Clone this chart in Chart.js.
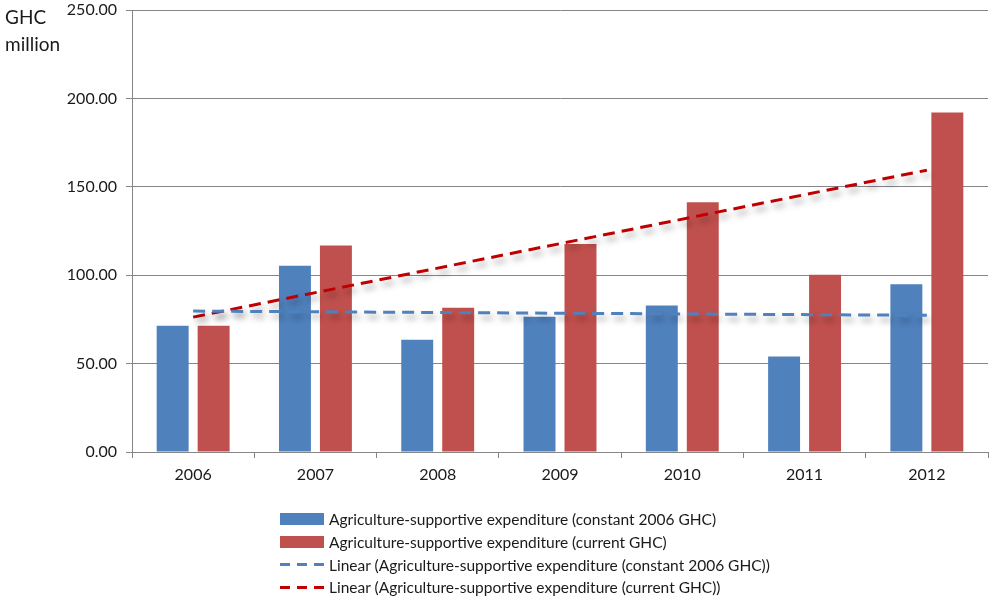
<!DOCTYPE html>
<html>
<head>
<meta charset="utf-8">
<script src="https://cdn.jsdelivr.net/npm/chart.js@4/dist/chart.umd.min.js"></script>
<style>
  html, body { margin: 0; padding: 0; background: #fff; }
  #wrap { position: relative; width: 990px; height: 600px; font-family: Lato, "Open Sans", sans-serif; color: #1a1a1a; }
  #c { position: absolute; left: 0; top: 0; }
  #ytitle { position: absolute; left: 5px; top: 3px; font-size: 19px; line-height: 27px; }
  #legend { position: absolute; left: 280px; top: 508px; font-size: 15.5px; }
  .row { height: 22.7px; display: flex; align-items: center; white-space: nowrap; }
  .sw { width: 44px; height: 12px; margin-right: 5px; flex: none; }
  .dash { width: 44px; height: 3px; margin-right: 5px; flex: none; }
</style>
</head>
<body>
<div id="wrap">
  <canvas id="c" width="990" height="600"></canvas>
  <div id="ytitle">GHC<br>million</div>
  <div id="legend"></div>
</div>
<script>
const categories = ["2006", "2007", "2008", "2009", "2010", "2011", "2012"];
const constantGHC = [71.4, 105.4, 63.5, 76.5, 82.8, 54.0, 94.9];
const currentGHC = [71.4, 116.8, 81.6, 117.7, 141.2, 100.2, 192.0];
// trend line endpoints (2006 and 2012)
const trendConstant = [79.7, null, null, null, null, null, 77.3];
const trendCurrent = [76.3, null, null, null, null, null, 159.4];
const seriesNames = [
  "Agriculture-supportive expenditure (constant 2006 GHC)",
  "Agriculture-supportive expenditure (current GHC)",
  "Linear (Agriculture-supportive expenditure (constant 2006 GHC))",
  "Linear (Agriculture-supportive expenditure (current GHC))"
];
const yTicks = [0, 50, 100, 150, 200, 250];

const BLUE = "#4F81BD", RED = "#C0504D", TREND_RED = "#C00000";

const shadowPlugin = {
  id: "trendShadow",
  beforeDatasetDraw(chart, args) {
    if (args.meta.type === "line") {
      const ctx = chart.ctx;
      ctx.save();
      ctx.shadowColor = "rgba(0,0,0,0.35)";
      ctx.shadowBlur = 6;
      ctx.shadowOffsetX = 3;
      ctx.shadowOffsetY = 5;
    }
  },
  afterDatasetDraw(chart, args) {
    if (args.meta.type === "line") chart.ctx.restore();
  }
};

const font = { family: "Lato, 'Open Sans', sans-serif", size: 16 };

new Chart(document.getElementById("c"), {
  type: "bar",
  data: {
    labels: categories,
    datasets: [
      { label: seriesNames[0], data: constantGHC, backgroundColor: BLUE, order: 1,
        categoryPercentage: 0.67, barPercentage: 0.78 },
      { label: seriesNames[1], data: currentGHC, backgroundColor: RED, order: 1,
        categoryPercentage: 0.67, barPercentage: 0.78 },
      { type: "line", label: seriesNames[2], data: trendConstant, borderColor: BLUE,
        borderWidth: 3, borderDash: [12, 7], pointRadius: 0, spanGaps: true, fill: false, order: 0 },
      { type: "line", label: seriesNames[3], data: trendCurrent, borderColor: TREND_RED,
        borderWidth: 3, borderDash: [12, 7], pointRadius: 0, spanGaps: true, fill: false, order: 0 }
    ]
  },
  options: {
    responsive: false,
    animation: false,
    layout: { padding: { top: 10, right: 2, left: 0, bottom: 0 } },
    plugins: { legend: { display: false }, tooltip: { enabled: false } },
    scales: {
      x: {
        offset: true,
        grid: { display: true, drawOnChartArea: false, drawTicks: true, tickLength: 6, color: "#868686", offset: true },
        border: { color: "#868686", width: 1 },
        ticks: { font: font, color: "#1a1a1a", padding: 7, maxRotation: 0 },
        afterFit(scale) { scale.height = 148; }
      },
      y: {
        min: 0, max: 250,
        afterBuildTicks(scale) { scale.ticks = yTicks.map(v => ({ value: v })); },
        grid: { color: "#868686", tickLength: 6, drawTicks: true },
        border: { color: "#868686", width: 1 },
        ticks: { font: font, color: "#1a1a1a", padding: 9, callback: v => Number(v).toFixed(2) },
        afterFit(scale) { scale.width = 132; scale.paddingTop = 0; scale.paddingBottom = 0; }
      }
    }
  },
  plugins: [shadowPlugin]
});

const lg = document.getElementById("legend");
const legendStyles = [
  { kind: "box", color: BLUE }, { kind: "box", color: RED },
  { kind: "dash", color: BLUE }, { kind: "dash", color: TREND_RED }
];
seriesNames.forEach((name, i) => {
  const row = document.createElement("div");
  row.className = "row";
  const sw = document.createElement("div");
  const st = legendStyles[i];
  if (st.kind === "box") {
    sw.className = "sw"; sw.style.background = st.color;
  } else {
    sw.className = "dash";
    sw.style.background = `repeating-linear-gradient(to right, ${st.color} 0 10px, transparent 10px 17px)`;
  }
  row.appendChild(sw);
  const t = document.createElement("span");
  t.textContent = name;
  row.appendChild(t);
  lg.appendChild(row);
});
</script>
</body>
</html>
